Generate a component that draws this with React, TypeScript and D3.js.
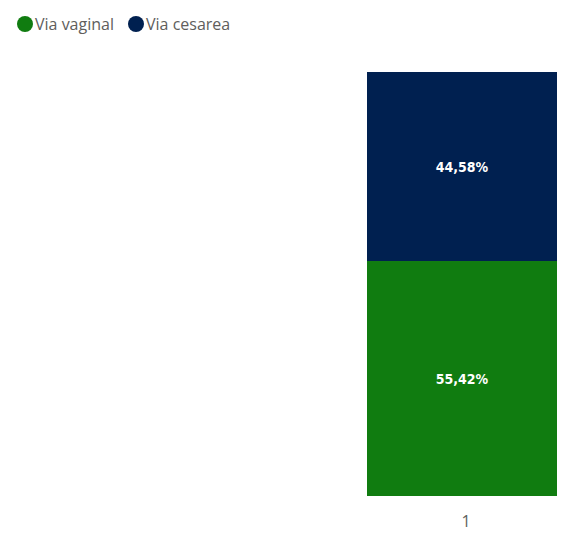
import React from "react";
import * as d3 from "d3";

const categories = ["1"];
const seriesNames = ["Via vaginal", "Via cesarea"];
const vaginal = [55.42];
const cesarea = [44.58];
const colors = ["#107C10", "#002050"];

export default function App() {
  const W = 561, H = 539;
  const x = d3.scaleBand<string>().domain(categories).range([367, 557]).padding(0);
  const y = d3.scaleLinear().domain([0, 100]).range([496, 72]);
  const rows = categories.map((c, i) => ({ cat: c, "Via vaginal": vaginal[i], "Via cesarea": cesarea[i] }));
  const stack = d3.stack<any>().keys(seriesNames)(rows);
  const fmt = (v: number) => v.toFixed(2).replace(".", ",") + "%";

  const legendX = [25, 136];
  const legendItems = seriesNames.map((n, i) => ({ n, cx: legendX[i], tx: legendX[i] + 10, color: colors[i] }));

  return (
    <svg width={W} height={H} style={{ position: "absolute", left: 0, top: 0 }}>
      <rect width={W} height={H} fill="#fff" />
      {legendItems.map((it) => (
        <g key={it.n}>
          <circle cx={it.cx} cy={24} r={8} fill={it.color} />
          <text x={it.tx} y={30} fontSize={16} fill="#605E5C" fontFamily="'Open Sans', sans-serif">{it.n}</text>
        </g>
      ))}
      {stack.map((s, si) =>
        s.map((d, di) => {
          const cat = categories[di];
          const x0 = x(cat)!;
          const y0 = y(d[1]);
          const h = y(d[0]) - y(d[1]);
          return (
            <g key={si + "-" + di}>
              <rect x={x0} y={y0} width={x.bandwidth()} height={h} fill={colors[si]} />
              <text x={x0 + x.bandwidth() / 2} y={y0 + h / 2 + 5} textAnchor="middle" fill="#fff" fontSize={14} fontWeight="bold" fontFamily="'DejaVu Sans Condensed', sans-serif">
                {fmt(d[1] - d[0])}
              </text>
            </g>
          );
        })
      )}
      {categories.map((c) => (
        <text key={c} x={x(c)! + x.bandwidth() / 2 + 4} y={527} textAnchor="middle" fontSize={16} fill="#605E5C" fontFamily="'Open Sans', sans-serif">{c}</text>
      ))}
    </svg>
  );
}
